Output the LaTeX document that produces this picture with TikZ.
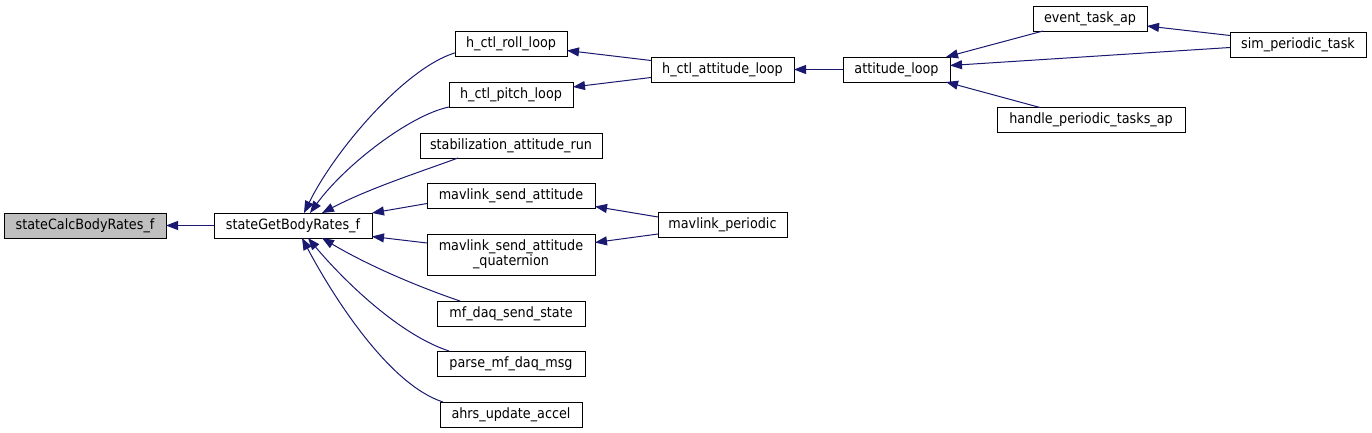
\documentclass[tikz,border=0pt]{standalone}
\usepackage{fontspec}
\setmainfont{DejaVu Sans Condensed}
\usetikzlibrary{arrows.meta}
\definecolor{edgeblue}{HTML}{191970}

\begin{document}
\begin{tikzpicture}[x=1pt, y=-1pt, font=\fontsize{14.2}{14.5}\selectfont,
		fn/.style={draw=black, line width=0.9pt, fill=white, minimum height=25pt, inner sep=0pt, outer sep=0pt},
		call/.style={draw=edgeblue, line width=1pt, -{Triangle[length=12pt,width=9pt]}}]
	\useasboundingbox (0,0) rectangle (1372,433);
	% functions
	\node[fn, fill=gray!50, minimum width=162pt] (calc) at (85,225.5) {stateCalcBodyRates\_f};
	\node[fn, minimum width=158pt] (get) at (293,225.5) {stateGetBodyRates\_f};
	\node[fn, minimum width=112pt] (roll) at (511,44) {h\_ctl\_roll\_loop};
	\node[fn, minimum width=124pt] (pitch) at (511,94.5) {h\_ctl\_pitch\_loop};
	\node[fn, minimum width=182pt] (stab) at (511,145.5) {stabilization\_attitude\_run};
	\node[fn, minimum width=168pt] (msa) at (511,195.5) {mavlink\_send\_attitude};
	\node[fn, minimum width=168pt, minimum height=41pt, align=center] (msaq) at (511,254.5) {mavlink\_send\_attitude\\\_quaternion};
	\node[fn, minimum width=148pt] (mfs) at (511,313.5) {mf\_daq\_send\_state};
	\node[fn, minimum width=148pt] (parse) at (511,363.5) {parse\_mf\_daq\_msg};
	\node[fn, minimum width=142pt] (ahrs) at (511,414.5) {ahrs\_update\_accel};
	\node[fn, minimum width=143pt] (hatt) at (722.5,69.5) {h\_ctl\_attitude\_loop};
	\node[fn, minimum width=129pt] (mavp) at (722.5,225) {mavlink\_periodic};
	\node[fn, minimum width=107pt] (attl) at (896.5,69.5) {attitude\_loop};
	\node[fn, minimum width=114pt] (event) at (1090,18.5) {event\_task\_ap};
	\node[fn, minimum width=136pt] (sim) at (1298,44.5) {sim\_periodic\_task};
	\node[fn, minimum width=188pt] (handle) at (1091,120) {handle\_periodic\_tasks\_ap};
	% calls into stateGetBodyRates_f
	\draw[call] (get) -- (calc);
	\draw[call] (roll.189) .. controls (405,68) and (335,150) .. ([xshift=11pt]get.north);
	\draw[call] (pitch.south west) .. controls (410,115) and (345,165) .. ([xshift=17pt]get.north);
	\draw[call] ([xshift=-53pt]stab.south) .. controls (420,172) and (370,188) .. ([xshift=29pt]get.north);
	\draw[call] ([yshift=-8pt]msa.west) -- (get.north east);
	\draw[call] ([yshift=11.5pt]msaq.west) -- ([yshift=-11pt]get.east);
	\draw[call] ([xshift=-51pt]mfs.north) .. controls (410,284) and (362,262) .. ([xshift=29pt]get.south);
	\draw[call] ([xshift=-62pt]parse.north) .. controls (400,335) and (345,282) .. ([xshift=15pt]get.south);
	\draw[call] ([xshift=-68pt]ahrs.north) .. controls (390,385) and (335,300) .. ([xshift=9pt]get.south);
	% callers further up
	\draw[call] ([yshift=9pt]hatt.west) -- ([yshift=-6.5pt]roll.east);
	\draw[call] ([yshift=-8pt]hatt.west) -- ([yshift=7.5pt]pitch.east);
	\draw[call] (attl) -- (hatt);
	\draw[call] ([xshift=10pt]event.south west) -- ([xshift=-4pt]attl.north east);
	\draw[call] ([yshift=-3pt]sim.west) -- ([yshift=4pt]attl.east);
	\draw[call] ([xshift=-51pt]handle.north) -- ([xshift=-4pt]attl.south east);
	\draw[call] ([yshift=9pt]sim.west) -- ([yshift=-7.5pt]event.east);
	\draw[call] ([yshift=8pt]mavp.west) -- ([yshift=-11pt]msa.east);
	\draw[call] ([yshift=-9pt]mavp.west) -- ([yshift=12pt]msaq.east);
\end{tikzpicture}
\end{document}
